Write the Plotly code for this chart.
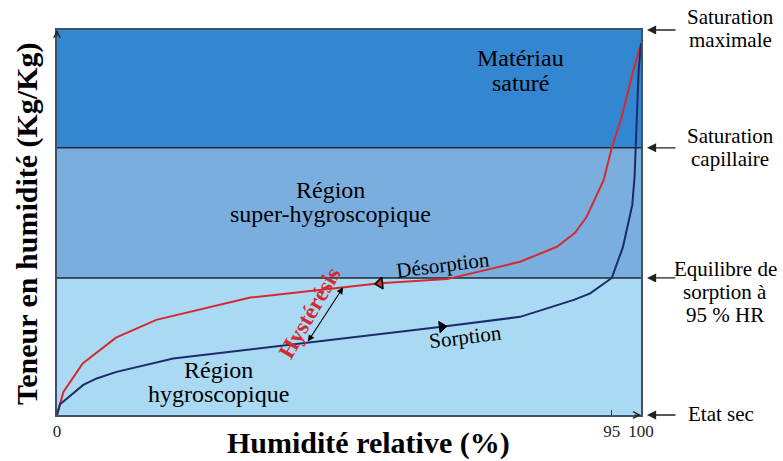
import numpy as np
import plotly.graph_objects as go

# ---------------- data ----------------
rh_desorption = [0, 1.1, 4.4, 10.1, 17.0, 33.1, 55.3, 66.8, 79.3, 85.6, 88.7, 90.7, 93.6, 95.0, 96.7, 98.7, 100]
w_desorption = [0, 6.0, 13.4, 20.1, 24.7, 30.5, 34.2, 35.3, 39.8, 43.7, 47.3, 51.5, 61.0, 69.4, 77.5, 89.6, 96.5]

rh_sorption = [0, 0.5, 1.4, 4.5, 6.8, 10.2, 19.9, 34.8, 43.3, 65.9, 79.3, 85.6, 88.5, 91.3, 95.0, 96.9, 98.5, 98.9, 99.3, 99.6, 100]
w_sorption = [0, 2.8, 3.9, 7.8, 9.5, 11.2, 14.7, 17.3, 18.8, 22.9, 25.5, 28.6, 29.9, 31.6, 35.6, 43.6, 54.5, 61.9, 76.6, 89.6, 96.5]

# moisture levels: dry state, sorption equilibrium at 95 % RH, capillary saturation, max saturation
levels = [0, 35.6, 69.4, 100]
level_labels = [["Etat sec"], ["Equilibre de", "sorption à", "95 % HR"], ["Saturation", "capillaire"], ["Saturation", "maximale"]]
band_colors = ["#AAD9F3", "#7AAEDF", "#3386D0"]
band_labels = [["Région", "hygroscopique"], ["Région", "super-hygroscopique"], ["Matériau", "saturé"]]

x_tickvals = [0, 95, 100]
x_ticktext = ["0", "95", "100"]

hyst_rh_top, hyst_rh_bottom = 49.0, 42.8
desorp_arrow_idx = 6
sorp_arrow_idx = 9

RED = "#D42A2E"
NAVY = "#1D2A6C"
FONT = "Liberation Serif"

# plot area geometry in pixels
W, H = 783, 461
L, R, T, B = 57, 641, 30, 415


def px(x):
    return (x - L) / (R - L)


def py(y):
    return (B - y) / (B - T)


fig = go.Figure()

fig.add_trace(go.Scatter(x=rh_desorption, y=w_desorption, mode="lines",
                         line=dict(color=RED, width=2), hoverinfo="skip", showlegend=False))
fig.add_trace(go.Scatter(x=rh_sorption, y=w_sorption, mode="lines",
                         line=dict(color=NAVY, width=2), hoverinfo="skip", showlegend=False))

# direction arrowheads on curves
fig.add_trace(go.Scatter(x=[rh_desorption[desorp_arrow_idx]], y=[w_desorption[desorp_arrow_idx]], mode="markers",
                         marker=dict(symbol="triangle-left", size=10, color=RED, angle=-6,
                                     line=dict(color="black", width=1.5)),
                         hoverinfo="skip", showlegend=False))
fig.add_trace(go.Scatter(x=[rh_sorption[sorp_arrow_idx]], y=[w_sorption[sorp_arrow_idx]], mode="markers",
                         marker=dict(symbol="triangle-right", size=10, color="black", angle=-7,
                                     line=dict(color="black", width=1)),
                         hoverinfo="skip", showlegend=False))

shapes = []
for i, c in enumerate(band_colors):
    shapes.append(dict(type="rect", xref="paper", yref="y", x0=0, x1=1, y0=levels[i], y1=levels[i + 1],
                       fillcolor=c, line=dict(width=0), layer="below"))
for lv in levels[1:3]:
    shapes.append(dict(type="line", xref="paper", yref="y", x0=0, x1=1, y0=lv, y1=lv,
                       line=dict(color="#1E2833", width=1.5), layer="below"))

ann = []


def text(x, y, s, size, color="black", bold=False, angle=0):
    ann.append(dict(x=px(x), y=py(y), xref="paper", yref="paper", text=("<b>%s</b>" % s) if bold else s,
                    showarrow=False, xanchor="center", yanchor="middle", textangle=angle,
                    font=dict(family=FONT, size=size, color=color)))


# region labels
text(520, 58, band_labels[2][0], 24)
text(520, 83, band_labels[2][1], 24)
text(330, 190, band_labels[1][0], 24)
text(330, 214, band_labels[1][1], 24)
text(218, 370, band_labels[0][0], 24)
text(218, 394, band_labels[0][1], 24)

# curve labels
text(443, 265, "Désorption", 21, angle=-7)
text(465, 337, "Sorption", 21, angle=-7)
text(309, 313, "Hystérésis", 23, color=RED, bold=True, angle=-60)

# axis titles
text(368, 443, "Humidité relative (%)", 30, bold=True)
text(27, 224, "Teneur en humidité (Kg/Kg)", 30, bold=True, angle=-90)

# right side labels and arrows
right_pos = [[(721, 414)], [(725, 269), (725, 292), (725, 315)], [(730, 136), (730, 159)], [(730, 17), (730, 40)]]
for lv, labels, pos in zip(levels, level_labels, right_pos):
    ann.append(dict(x=px(647), y=lv, xref="paper", yref="y", text="", showarrow=True,
                    ax=30, ay=0, arrowhead=2, arrowsize=1.4, arrowwidth=1.3, arrowcolor="#222222"))
    for s, (x, y) in zip(labels, pos):
        text(x, y, s, 21)

# hysteresis double arrow
y_top = float(np.interp(hyst_rh_top, rh_desorption, w_desorption))
y_bot = float(np.interp(hyst_rh_bottom, rh_sorption, w_sorption))
ann.append(dict(x=hyst_rh_top, y=y_top, ax=hyst_rh_bottom, ay=y_bot, xref="x", yref="y", axref="x", ayref="y",
                text="", showarrow=True, arrowhead=2, startarrowhead=2, arrowside="end+start",
                arrowsize=1.2, startarrowsize=1.2, arrowwidth=1.1, arrowcolor="black"))

# axis end chevrons
ann.append(dict(x=0, y=100, xref="x", yref="y", ax=0, ay=8, text="", showarrow=True,
                arrowhead=5, arrowsize=1.3, arrowwidth=1, arrowcolor="#222222"))
ann.append(dict(x=100, y=0, xref="x", yref="y", ax=-8, ay=0, text="", showarrow=True,
                arrowhead=5, arrowsize=1.3, arrowwidth=1, arrowcolor="#222222"))

fig.update_layout(
    width=W, height=H,
    margin=dict(l=L, r=W - R, t=T, b=H - B, pad=0),
    paper_bgcolor="white", plot_bgcolor="rgba(0,0,0,0)",
    shapes=shapes, annotations=ann,
    xaxis=dict(range=[0, 100], tickvals=x_tickvals, ticktext=x_ticktext, ticks="inside", ticklen=5,
               tickcolor="#333333", tickfont=dict(family=FONT, size=17, color="#222222"),
               showline=True, mirror=True, linecolor="#3F5266", linewidth=2,
               showgrid=False, zeroline=False, fixedrange=True),
    yaxis=dict(range=[0, 100], showticklabels=False, ticks="", showline=True, mirror=True,
               linecolor="#3F5266", linewidth=2, showgrid=False, zeroline=False, fixedrange=True),
)

fig.write_html("out.html", config={"displayModeBar": False},
               post_script="document.body.style.margin='0';document.body.style.padding='0';")
